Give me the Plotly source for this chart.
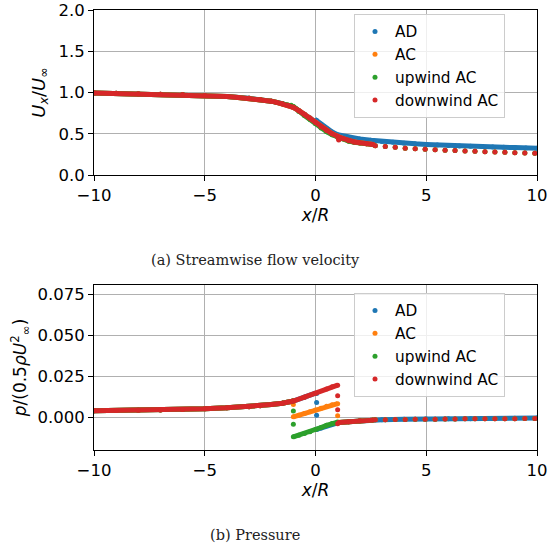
import plotly.graph_objects as go

# ---------------- DATA ----------------
series_names = ["AD", "AC", "upwind AC", "downwind AC"]
series_colors = ["#1f77b4", "#ff7f0e", "#2ca02c", "#d62728"]

x_ticks = [-10, -5, 0, 5, 10]
ux_ticks = [0.0, 0.5, 1.0, 1.5, 2.0]
p_ticks = [0.000, 0.025, 0.050, 0.075]

# --- (a) streamwise velocity ---
ux_ad_x = [-10, -9, -8, -7, -6, -5, -4, -3, -2.5, -2, -1.5, -1, -0.75, -0.5, -0.25, 0, 0.05, 0.25,
           0.5, 0.75, 1, 1.5, 2, 2.5, 3, 3.5, 4, 4.5, 5, 5.5, 6, 6.5, 7, 7.5, 8, 8.5, 9, 9.5, 10]
ux_ad_y = [0.995, 0.99, 0.985, 0.98, 0.975, 0.965, 0.95, 0.93, 0.915, 0.895, 0.865, 0.82, 0.78, 0.735,
           0.69, 0.645, 0.66, 0.615, 0.56, 0.52, 0.488, 0.457, 0.437, 0.421, 0.407, 0.396, 0.386,
           0.378, 0.371, 0.364, 0.358, 0.353, 0.348, 0.344, 0.34, 0.336, 0.332, 0.328, 0.325]

ux_ac_x = [-10, -9, -8, -7, -6, -5, -4, -3.5, -3, -2.5, -2, -1.75, -1.5, -1.25, -1, -0.75, -0.5,
           -0.25, 0, 0.25, 0.5, 0.75, 1.0, 1.25, 1.5, 1.75, 2.0, 2.3, 2.6]
ux_ac_y = [0.995, 0.99, 0.985, 0.98, 0.975, 0.965, 0.95, 0.94, 0.93, 0.915, 0.895, 0.88, 0.865,
           0.845, 0.82, 0.78, 0.735, 0.69, 0.635, 0.585, 0.54, 0.5, 0.47, 0.44, 0.415, 0.4, 0.39,
           0.38, 0.37]
ux_ac_sx = [2.7, 3.15, 3.6, 4.05, 4.5, 4.95, 5.4, 5.85, 6.3, 6.75, 7.2, 7.65, 8.1, 8.55, 9.0, 9.45, 9.9]
ux_ac_sy = [0.355, 0.345, 0.335, 0.325, 0.318, 0.312, 0.306, 0.3, 0.296, 0.291, 0.287, 0.283, 0.279,
            0.275, 0.271, 0.267, 0.263]

ux_up_x = [-10, -9, -8, -7, -6, -5, -4, -3.5, -3, -2.5, -2, -1.75, -1.5, -1.25, -1.1, -1.0, -0.9,
           -0.75, -0.5, -0.25, 0, 0.25, 0.5, 0.75, 1.0, 1.25, 1.5, 1.75, 2.0, 2.3, 2.6]
ux_up_y = [0.995, 0.99, 0.985, 0.98, 0.975, 0.965, 0.95, 0.94, 0.93, 0.915, 0.895, 0.88, 0.865,
           0.848, 0.845, 0.83, 0.81, 0.77, 0.72, 0.672, 0.62, 0.57, 0.525, 0.488, 0.46, 0.435,
           0.41, 0.398, 0.388, 0.378, 0.368]
ux_up_sx = [2.7, 3.15, 3.6, 4.05, 4.5, 4.95, 5.4, 5.85, 6.3, 6.75, 7.2, 7.65, 8.1, 8.55, 9.0, 9.45, 9.9]
ux_up_sy = [0.355, 0.345, 0.335, 0.325, 0.318, 0.312, 0.306, 0.3, 0.296, 0.291, 0.287, 0.283, 0.279,
            0.275, 0.271, 0.267, 0.263]

ux_dn_x = [-10, -9, -8, -7, -6, -5, -4, -3.5, -3, -2.5, -2, -1.75, -1.5, -1.25, -1, -0.75, -0.5,
           -0.25, 0, 0.25, 0.5, 0.75, 1.0, 1.05, 1.1, 1.25, 1.5, 1.75, 2.0, 2.3, 2.6]
ux_dn_y = [0.995, 0.99, 0.985, 0.98, 0.975, 0.965, 0.95, 0.94, 0.93, 0.915, 0.895, 0.88, 0.865,
           0.845, 0.82, 0.78, 0.735, 0.69, 0.635, 0.585, 0.54, 0.5, 0.47, 0.425, 0.455, 0.44,
           0.415, 0.4, 0.39, 0.38, 0.37]
ux_dn_sx = [2.7, 3.15, 3.6, 4.05, 4.5, 4.95, 5.4, 5.85, 6.3, 6.75, 7.2, 7.65, 8.1, 8.55, 9.0, 9.45, 9.9]
ux_dn_sy = [0.355, 0.345, 0.335, 0.325, 0.318, 0.312, 0.306, 0.3, 0.296, 0.291, 0.287, 0.283, 0.279,
            0.275, 0.271, 0.267, 0.263]

# --- (b) pressure ---
p_upstream_x = [-10, -9, -8, -7, -6, -5, -4, -3, -2.5, -2, -1.5, -1]
p_upstream_y = [0.0039, 0.004, 0.0042, 0.0044, 0.0047, 0.0051, 0.0057, 0.0064, 0.007, 0.0077,
                0.0085, 0.0098]

p_ad_x = [-0.5, 0]
p_ad_y = [0.0122, 0.0146]
p_ad_jx = [0.05, 0.05, 0.05]
p_ad_jy = [0.0144, 0.009, 0.0012]
p_ad_dx = [0.05, 0.25, 0.5, 0.75, 1.0, 1.5, 2.0, 2.5, 3, 4, 5, 6, 7, 8, 9, 10]
p_ad_dy = [-0.0075, -0.0066, -0.0053, -0.0042, -0.0034, -0.0028, -0.0023, -0.0019, -0.0016,
           -0.0013, -0.0011, -0.001, -0.0009, -0.0008, -0.0006, -0.0005]

p_ac_jx = [-1.0, 1.0]
p_ac_jy = [0.0077, 0.0008]
p_ac_mx = [-1.0, -0.75, -0.5, -0.25, 0, 0.25, 0.5, 0.75, 1.0]
p_ac_my = [0.0002, 0.0012, 0.0022, 0.0033, 0.0044, 0.0055, 0.0066, 0.0076, 0.0082]

p_up_jx = [-1.0, -1.0]
p_up_jy = [0.0037, -0.0043]
p_up_mx = [-1.0, -0.75, -0.5, -0.25, 0, 0.25, 0.5, 0.75, 1.0]
p_up_my = [-0.012, -0.011, -0.01, -0.0089, -0.0075, -0.0063, -0.005, -0.0039, -0.003]

p_dn_mx = [-0.5, 0, 0.5, 0.75, 1.0]
p_dn_my = [0.0122, 0.0146, 0.0172, 0.0185, 0.0195]
p_dn_jx = [1.0, 1.0, 1.0]
p_dn_jy = [0.013, 0.0045, -0.004]

p_wake_x = [1.05, 1.5, 2.0, 2.6]
p_wake_y = [-0.0033, -0.0028, -0.0022, -0.0018]
p_wake_sx = [2.7, 3.15, 3.6, 4.05, 4.5, 4.95, 5.4, 5.85, 6.3, 6.75, 7.2, 7.65, 8.1, 8.55, 9.0, 9.45, 9.9]
p_wake_sy = [-0.0016, -0.0015, -0.0014, -0.0014, -0.0013, -0.0012, -0.0012, -0.0011, -0.0011,
             -0.001, -0.001, -0.001, -0.0009, -0.0009, -0.0009, -0.0008, -0.0008]

# ---------------- FIGURE ----------------
fig = go.Figure()
MS = 5
LW = 5


def dense(x, y, color, xa, ya):
    fig.add_trace(go.Scatter(x=x, y=y, mode="lines+markers", xaxis=xa, yaxis=ya,
                             line=dict(color=color, width=LW), marker=dict(color=color, size=MS),
                             showlegend=False, hoverinfo="skip"))


def dots(x, y, color, xa, ya):
    fig.add_trace(go.Scatter(x=x, y=y, mode="markers", xaxis=xa, yaxis=ya,
                             marker=dict(color=color, size=MS), showlegend=False, hoverinfo="skip"))


def seg(*parts):
    xs, ys = [], []
    for i in range(0, len(parts), 2):
        if xs:
            xs.append(None)
            ys.append(None)
        xs += list(parts[i])
        ys += list(parts[i + 1])
    return xs, ys


cB, cO, cG, cR = series_colors

# (a)
dense(ux_ad_x, ux_ad_y, cB, "x", "y")
dense(ux_ac_x, ux_ac_y, cO, "x", "y")
dots(ux_ac_sx, ux_ac_sy, cO, "x", "y")
dense(ux_up_x, ux_up_y, cG, "x", "y")
dots(ux_up_sx, ux_up_sy, cG, "x", "y")
dense(ux_dn_x, ux_dn_y, cR, "x", "y")
dots(ux_dn_sx, ux_dn_sy, cR, "x", "y")

# (b)
x, y = seg(p_upstream_x + p_ad_x, p_upstream_y + p_ad_y, p_ad_dx, p_ad_dy)
dense(x, y, cB, "x2", "y2")
dots(p_ad_jx, p_ad_jy, cB, "x2", "y2")

x, y = seg(p_upstream_x, p_upstream_y, p_ac_mx, p_ac_my, p_wake_x, p_wake_y)
dense(x, y, cO, "x2", "y2")
dots(p_ac_jx, p_ac_jy, cO, "x2", "y2")
dots(p_wake_sx, p_wake_sy, cO, "x2", "y2")

x, y = seg(p_upstream_x, p_upstream_y, p_up_mx, p_up_my, p_wake_x, p_wake_y)
dense(x, y, cG, "x2", "y2")
dots(p_up_jx, p_up_jy, cG, "x2", "y2")
dots(p_wake_sx, p_wake_sy, cG, "x2", "y2")

x, y = seg(p_upstream_x + p_dn_mx, p_upstream_y + p_dn_my, p_wake_x, p_wake_y)
dense(x, y, cR, "x2", "y2")
dots(p_dn_jx, p_dn_jy, cR, "x2", "y2")
dots(p_wake_sx, p_wake_sy, cR, "x2", "y2")

# legend entries
for lg, xa, ya in (("legend", "x", "y"), ("legend2", "x2", "y2")):
    for name, col in zip(series_names, series_colors):
        fig.add_trace(go.Scatter(x=[None], y=[None], mode="markers", name=name, legend=lg,
                                 xaxis=xa, yaxis=ya, marker=dict(color=col, size=MS)))

FONT = "DejaVu Sans"
TICKFONT = dict(family=FONT, size=16.5, color="black")
TITLEFONT = dict(family=FONT, size=17, color="black")
axis_common = dict(showline=True, linecolor="black", linewidth=1, mirror=True,
                   ticks="outside", ticklen=5, tickwidth=1, tickcolor="black",
                   showgrid=True, gridcolor="#b0b0b0", gridwidth=1, zeroline=False,
                   tickfont=TICKFONT, automargin=False)

xdom = [94 / 548, 537 / 548]
legend_common = dict(font=dict(family=FONT, size=15.3, color="black"), bgcolor="rgba(255,255,255,0.8)",
                     bordercolor="#cccccc", borderwidth=1, xanchor="right", yanchor="top",
                     itemsizing="trace", tracegroupgap=0)

fig.update_layout(
    width=548, height=550, margin=dict(l=0, r=0, t=0, b=0, autoexpand=False),
    paper_bgcolor="white", plot_bgcolor="white",
    font=dict(family=FONT, color="black"),
    xaxis=dict(domain=xdom, anchor="y", range=[-10, 10], tickvals=x_ticks,
               title=dict(text="<i>x</i>/<i>R</i>", font=TITLEFONT, standoff=2),
               **axis_common),
    yaxis=dict(domain=[1 - 175 / 550, 1 - 10 / 550], anchor="x", range=[0, 2], tickvals=ux_ticks,
               tickformat=".1f",
               title=dict(text="<i>U</i><sub><i>x</i></sub>/<i>U</i><sub>∞</sub>",
                          font=dict(family=FONT, size=18, color="black"), standoff=8),
               **axis_common),
    xaxis2=dict(domain=xdom, anchor="y2", range=[-10, 10], tickvals=x_ticks,
                title=dict(text="<i>x</i>/<i>R</i>", font=TITLEFONT, standoff=2),
                **axis_common),
    yaxis2=dict(domain=[1 - 450 / 550, 1 - 285 / 550], anchor="x2", range=[-0.02, 0.0805],
                tickvals=p_ticks, tickformat=".3f",
                title=dict(text="<i>p</i>/(0.5<i>ρU</i><sup>2</sup><sub>∞</sub>)",
                           font=TITLEFONT, standoff=6),
                **axis_common),
    legend=dict(x=505 / 548, y=1 - 14 / 550, **legend_common),
    legend2=dict(x=505 / 548, y=1 - 293 / 550, **legend_common),
    annotations=[
        dict(text="(a) Streamwise flow velocity", x=255 / 548, y=1 - 260 / 550, xref="paper",
             yref="paper", showarrow=False, xanchor="center", yanchor="middle",
             font=dict(family="DejaVu Serif", size=14.5, color="#222222")),
        dict(text="(b) Pressure", x=255 / 548, y=1 - 535 / 550, xref="paper",
             yref="paper", showarrow=False, xanchor="center", yanchor="middle",
             font=dict(family="DejaVu Serif", size=14.5, color="#222222")),
    ],
)

fig.write_html("out.html")
